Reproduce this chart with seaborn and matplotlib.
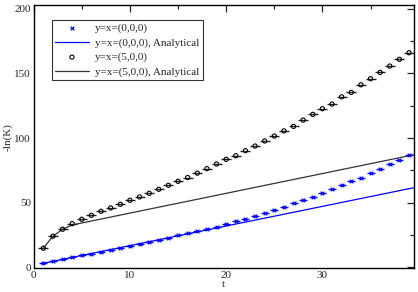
import matplotlib
matplotlib.use("Agg")
import matplotlib.pyplot as plt
import numpy as np
import pandas as pd
import seaborn as sns
from matplotlib.ticker import MultipleLocator

# sampled points, t = 1..39
t_pts = np.arange(1, 40)
y_000 = [3.1, 4.6, 6.1, 7.6, 9.1, 10.6, 12.1, 13.6, 15.1, 16.6,
         18.1, 19.7, 21.3, 22.9, 24.6, 26.2, 27.8, 29.4, 31.4, 33.2,
         35.8, 37.6, 39.9, 42.2, 44.5, 46.9, 49.5, 52.0, 54.6, 57.5,
         60.3, 63.4, 66.5, 69.3, 72.7, 75.8, 79.7, 83.0, 86.6]
y_500 = [14.7, 24.0, 29.4, 33.7, 37.1, 40.2, 43.3, 45.9, 48.7, 51.8,
         54.4, 57.2, 60.3, 63.4, 66.5, 69.4, 72.8, 76.3, 79.9, 83.5,
         86.3, 90.2, 93.8, 97.7, 101.5, 105.5, 109.0, 113.9, 118.3, 122.7,
         126.3, 131.9, 135.3, 141.2, 145.9, 150.8, 155.7, 160.9, 166.0]

# analytical curves (breakpoints)
t_an_000 = [1, 40]
an_000 = [3.0, 62.3]
t_an_500 = [1, 2, 3, 4, 40]
an_500 = [14.7, 24.0, 29.4, 32.7, 87.8]

labels = ["y=x=(0,0,0)", "y=x=(0,0,0), Analytical",
          "y=x=(5,0,0)", "y=x=(5,0,0), Analytical"]

sns.set_style("white")
plt.rcParams["font.family"] = ["Liberation Serif", "DejaVu Serif"]
plt.rcParams["font.size"] = 8

fig = plt.figure(figsize=(4.18, 2.92), dpi=100)
ax = fig.add_axes([0.0806, 0.0805, 0.9094, 0.9025])

blue = "#0000ff"
pts0 = pd.DataFrame({"t": t_pts, "y": y_000})
pts5 = pd.DataFrame({"t": t_pts, "y": y_500})

# horizontal dashes behind the symbols
ax.plot(t_pts, y_000, ls="none", marker="_", ms=6, mew=1.0, color=blue)
ax.plot(t_pts, y_500, ls="none", marker="_", ms=6.5, mew=1.0, color="#222222")

sns.scatterplot(data=pts0, x="t", y="y", marker="x", s=7, color=blue,
                linewidth=0.9, label=labels[0], ax=ax, zorder=3)
sns.lineplot(x=t_an_000, y=an_000, color=blue, lw=0.9, label=labels[1], ax=ax)
sns.scatterplot(data=pts5, x="t", y="y", marker="o", s=9, facecolor="none",
                edgecolor="black", linewidth=0.8, label=labels[2], ax=ax, zorder=3)
sns.lineplot(x=t_an_500, y=an_500, color="#333333", lw=0.9, label=labels[3], ax=ax)

ax.set_xlim(0, 39.5)
ax.set_ylim(-1, 203)
ax.xaxis.set_major_locator(MultipleLocator(10))
ax.xaxis.set_minor_locator(MultipleLocator(5))
ax.yaxis.set_major_locator(MultipleLocator(50))
ax.yaxis.set_minor_locator(MultipleLocator(25))
ax.tick_params(which="both", direction="in", top=True, right=True,
               labelsize=8, width=0.9, pad=2)
ax.tick_params(which="major", length=5)
ax.tick_params(which="minor", length=3)
for s in ax.spines.values():
    s.set_linewidth(1.0)
    s.set_color("black")

ax.set_xlabel("t", fontsize=8, labelpad=0)
ax.set_ylabel("-ln(K)", fontsize=8, labelpad=1)

leg = ax.legend(loc="upper left", bbox_to_anchor=(0.048, 0.943), borderaxespad=0,
                fontsize=8, frameon=True, fancybox=False, shadow=False,
                handlelength=3.0, handletextpad=0.6, labelspacing=0.4,
                borderpad=0.3)
leg.get_frame().set_edgecolor("black")
leg.get_frame().set_linewidth(0.8)

fig.savefig("out.png", dpi=100)
